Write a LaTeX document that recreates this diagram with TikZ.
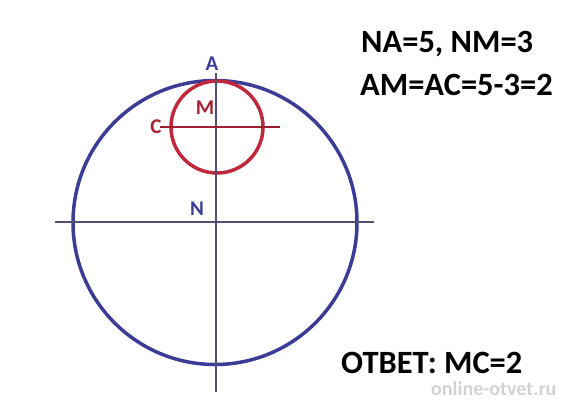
\documentclass[tikz,border=0pt]{standalone}
\usepackage{fontspec}
\setmainfont{Carlito}
\usepackage{tikz}
\definecolor{bigblue}{RGB}{60,60,150}
\definecolor{smallred}{RGB}{192,40,60}
\definecolor{axisgrey}{RGB}{80,80,115}
\tikzset{%
  bigcircle/.style   = {circle, draw=bigblue, line width=3.5pt, inner sep=0pt},%
  smallcircle/.style = {circle, draw=smallred, line width=3.5pt, inner sep=0pt},%
  axisline/.style    = {draw=axisgrey, line width=1.2pt},%
  redline/.style     = {draw=smallred!80!black, line width=1.2pt},%
  lbl/.style         = {font=\fontsize{21}{21}\selectfont\bfseries, inner sep=0pt},%
  note/.style        = {font=\fontsize{32.5}{32.5}\selectfont\bfseries, anchor=west, inner sep=0pt}%
}
\begin{document}
\begin{tikzpicture}[x=1pt,y=1pt]
	\useasboundingbox (0,0) rectangle (576,-400);
	% circles
	\node [bigcircle, minimum size=284pt] (big) at (215,-222.5) {};
	\node [smallcircle, minimum size=92pt] (small) at (217,-127) {};
	% axes
	\coordinate (left) at (55,-222);
	\coordinate (right) at (374,-222);
	\coordinate (top) at (216,-73);
	\coordinate (bottom) at (216,-392);
	\coordinate (cleft) at (160,-127);
	\coordinate (cright) at (280,-127);
	\draw [axisline] (left) -- (right);
	\draw [axisline] (top) -- (bottom);
	\draw [redline] (cleft) -- (cright);
	% labels
	\node [lbl, text=bigblue] (A) at (212,-64) {A};
	\node [lbl, text=smallred!85!black] (M) at (205,-108) {M};
	\node [lbl, text=smallred!85!black] (C) at (156,-127) {C};
	\node [lbl, text=bigblue] (N) at (197,-209) {N};
	% notes
	\node [note] (given) at (361,-44) {NA=5, NM=3};
	\node [note] (calc) at (360,-84.5) {AM=AC=5-3=2};
	\node [note] (answer) at (341,-363) {ОТВЕТ: МС=2};
	\node [font=\fontsize{20}{20}\selectfont\bfseries, text=gray!35, anchor=west, inner sep=0pt] (site) at (431,-388.5) {online-otvet.ru};
\end{tikzpicture}
\end{document}
